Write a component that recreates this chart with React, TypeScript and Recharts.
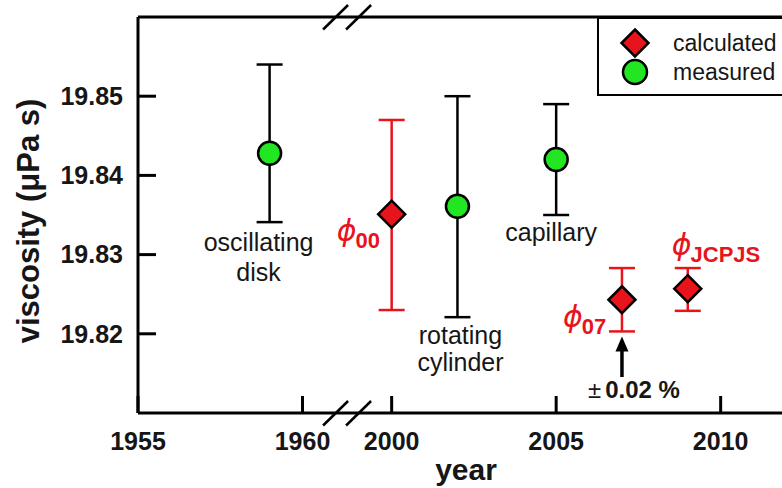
import React from 'react';
import { ScatterChart, Scatter, XAxis, YAxis, ErrorBar, Legend, ReferenceLine } from 'recharts';

const FONT = '"Liberation Sans", Arial, Helvetica, sans-serif';
const RED = '#e8141c';
const GREEN = '#22e622';
const INK = '#161616';

// the x axis is broken between 1960 and 2000: later years are pulled left
const BREAK_FROM = 2000;
const BREAK_SHIFT = 37.29;
const toAxis = (year: number) => (year >= BREAK_FROM ? year - BREAK_SHIFT : year);

const yearTicks = [1955, 1960, 2000, 2005, 2010];
const viscosityTicks = [19.82, 19.83, 19.84, 19.85];

const measuredNames = ['oscillating disk', 'rotating cylinder', 'capillary'];
const measuredYears = [1959, 2002, 2005];
const measuredValues = [19.8428, 19.8361, 19.842];
const measuredLow = [19.8341, 19.8221, 19.835];
const measuredHigh = [19.854, 19.85, 19.849];

const calculatedNames = ['00', '07', 'JCPJS'];
const calculatedYears = [2000, 2007, 2009];
const calculatedValues = [19.8351, 19.8243, 19.8257];
const calculatedLow = [19.823, 19.8203, 19.8229];
const calculatedHigh = [19.847, 19.8283, 19.8283];

const toRows = (names: string[], years: number[], vals: number[], lo: number[], hi: number[]) =>
  names.map((name, i) => ({
    name,
    x: toAxis(years[i]),
    y: vals[i],
    err: [vals[i] - lo[i], hi[i] - vals[i]],
  }));

const measured = toRows(measuredNames, measuredYears, measuredValues, measuredLow, measuredHigh);
const calculated = toRows(calculatedNames, calculatedYears, calculatedValues, calculatedLow, calculatedHigh);

// layout
const W = 800;
const H = 488;
const LEFT = 138;
const TOP = 17;
const X_AXIS_H = 75;
const PLOT_W = W - LEFT;
const PLOT_H = H - TOP - X_AXIS_H;
const X_MIN = 1955;
const X_MAX = 1955 + PLOT_W / 32.9;
const Y_MIN = 19.81;
const Y_MAX = 19.86;

const px = (v: number) => LEFT + ((v - X_MIN) / (X_MAX - X_MIN)) * PLOT_W;
const py = (v: number) => TOP + ((Y_MAX - v) / (Y_MAX - Y_MIN)) * PLOT_H;

const Diamond = (props: any) => {
  const { cx, cy } = props;
  if (cx == null || cy == null) return null;
  const r = 13.5;
  return (
    <path
      d={`M${cx},${cy - r}L${cx + r},${cy}L${cx},${cy + r}L${cx - r},${cy}Z`}
      fill={RED}
      stroke="#000"
      strokeWidth={2.5}
    />
  );
};

const Dot = (props: any) => {
  const { cx, cy } = props;
  if (cx == null || cy == null) return null;
  return <circle cx={cx} cy={cy} r={11.5} fill={GREEN} stroke="#000" strokeWidth={2.5} />;
};

const LegendBox = (props: any) => {
  const items = (props.payload || []).map((p: any) => p.value);
  const order = ['calculated', 'measured'].filter((n) => items.includes(n));
  return (
    <div style={{ width: 230, height: 79, boxSizing: 'border-box', border: '2.5px solid #000', background: '#fff' }}>
      <svg width={228} height={77} style={{ display: 'block' }}>
        {order.map((name, i) => {
          const cy = 24 + i * 29;
          return (
            <g key={name}>
              {name === 'calculated' ? (
                <Diamond cx={36} cy={cy} />
              ) : (
                <circle cx={36} cy={cy} r={12} fill={GREEN} stroke="#000" strokeWidth={2.5} />
              )}
              <text x={74} y={cy + 8} fontFamily={FONT} fontSize={23} fill={INK}>
                {name}
              </text>
            </g>
          );
        })}
      </svg>
    </div>
  );
};

const phiStyle = { fontFamily: '"DejaVu Sans", sans-serif', fontStyle: 'italic' as const, fontSize: 30 };

const Phi = ({ x, y, sub }: { x: number; y: number; sub: string }) => (
  <text x={x} y={y} fill={RED}>
    <tspan {...phiStyle}>ϕ</tspan>
    <tspan fontFamily={FONT} fontWeight="bold" fontSize={22} dx={-1} dy={7}>
      {sub}
    </tspan>
  </text>
);

const Break = ({ y }: { y: number }) => {
  const c = (px(toAxis(1960)) + px(toAxis(2000))) / 2;
  return (
    <g>
      <rect x={c - 11.5} y={y - 3} width={23} height={6} fill="#fff" />
      <line x1={c - 24} y1={y + 12.5} x2={c + 1} y2={y - 12} stroke="#000" strokeWidth={2.5} />
      <line x1={c - 1} y1={y + 12.5} x2={c + 24} y2={y - 12} stroke="#000" strokeWidth={2.5} />
    </g>
  );
};

const Annotations = () => {
  const text = { fontFamily: FONT, fontSize: 25, fill: INK, textAnchor: 'middle' as const };
  const osc = px(measured[0].x);
  const rot = px(measured[1].x);
  const cap = px(measured[2].x);
  const p07 = px(calculated[1].x);
  const arrowTop = py(calculatedLow[1]) + 5;
  return (
    <g>
      <Break y={TOP} />
      <Break y={TOP + PLOT_H} />

      <text x={osc - 11} y={251} {...text}>oscillating</text>
      <text x={osc - 11} y={281} {...text}>disk</text>
      <text x={rot + 3} y={344} {...text}>rotating</text>
      <text x={rot + 3} y={371} {...text}>cylinder</text>
      <text x={cap - 5} y={241} {...text}>capillary</text>

      <Phi x={px(calculated[0].x) - 55} y={241} sub={calculated[0].name} />
      <Phi x={p07 - 59} y={327} sub={calculated[1].name} />
      <Phi x={px(calculated[2].x) - 16} y={255} sub={calculated[2].name} />

      <line x1={p07} y1={377} x2={p07} y2={arrowTop + 12} stroke="#000" strokeWidth={3.5} />
      <path d={`M${p07},${arrowTop}L${p07 + 6.5},${arrowTop + 15}L${p07 - 6.5},${arrowTop + 15}Z`} fill="#000" />
      <text x={p07 + 12} y={398} fontFamily={FONT} fontSize={24} fill={INK} textAnchor="middle">
        <tspan>±</tspan>
        <tspan fontWeight="bold" dx={4}>0.02 %</tspan>
      </text>
    </g>
  );
};

const yearLabel = (v: number) => {
  const hit = yearTicks.find((y) => Math.abs(toAxis(y) - v) < 1e-6);
  return hit != null ? String(hit) : '';
};

export default function App() {
  const axisLine = { stroke: '#000', strokeWidth: 3 };
  const tick = { fill: INK, fontSize: 25, fontWeight: 'bold', fontFamily: FONT };
  return (
    <div style={{ position: 'fixed', left: 0, top: 0, width: 782, height: 488, overflow: 'hidden', background: '#fff' }}>
      <ScatterChart width={W} height={H} margin={{ top: TOP, right: 0, bottom: 0, left: 0 }}>
        <XAxis
          type="number"
          dataKey="x"
          domain={[X_MIN, X_MAX]}
          allowDataOverflow
          ticks={yearTicks.map(toAxis)}
          interval={0}
          tickFormatter={yearLabel}
          height={X_AXIS_H}
          axisLine={axisLine}
          tickLine={axisLine}
          tickSize={-17}
          tickMargin={36}
          tick={tick}
          label={{
            content: (p: any) => (
              <text
                x={p.viewBox.x + 328}
                y={p.viewBox.y + 67}
                textAnchor="middle"
                fontFamily={FONT}
                fontWeight="bold"
                fontSize={30}
                fill={INK}
              >
                year
              </text>
            ),
          }}
        />
        <YAxis
          type="number"
          dataKey="y"
          domain={[Y_MIN, Y_MAX]}
          allowDataOverflow
          ticks={viscosityTicks}
          interval={0}
          tickFormatter={(v: number) => v.toFixed(2)}
          width={LEFT}
          axisLine={axisLine}
          tickLine={axisLine}
          tickSize={-18}
          tickMargin={33}
          tick={tick}
          label={{
            content: (p: any) => {
              const x = p.viewBox.x + 39;
              const y = p.viewBox.y + p.viewBox.height / 2 + 6;
              return (
                <text
                  x={x}
                  y={y}
                  transform={`rotate(-90 ${x} ${y})`}
                  textAnchor="middle"
                  fontFamily={FONT}
                  fontWeight="bold"
                  fontSize={31}
                  fill={INK}
                >
                  viscosity (μPa s)
                </text>
              );
            },
          }}
        />
        <ReferenceLine y={Y_MAX} stroke="#000" strokeWidth={3} />
        <Scatter name="calculated" data={calculated} shape={Diamond} isAnimationActive={false}>
          <ErrorBar dataKey="err" direction="y" width={13} stroke={RED} strokeWidth={2.5} />
        </Scatter>
        <Scatter name="measured" data={measured} shape={Dot} isAnimationActive={false}>
          <ErrorBar dataKey="err" direction="y" width={13} stroke="#000" strokeWidth={2.5} />
        </Scatter>
        <Legend
          layout="vertical"
          align="center"
          verticalAlign="middle"
          wrapperStyle={{ left: 597, top: TOP, width: 230, height: 79 }}
          content={LegendBox}
        />
        <Annotations />
      </ScatterChart>
    </div>
  );
}
